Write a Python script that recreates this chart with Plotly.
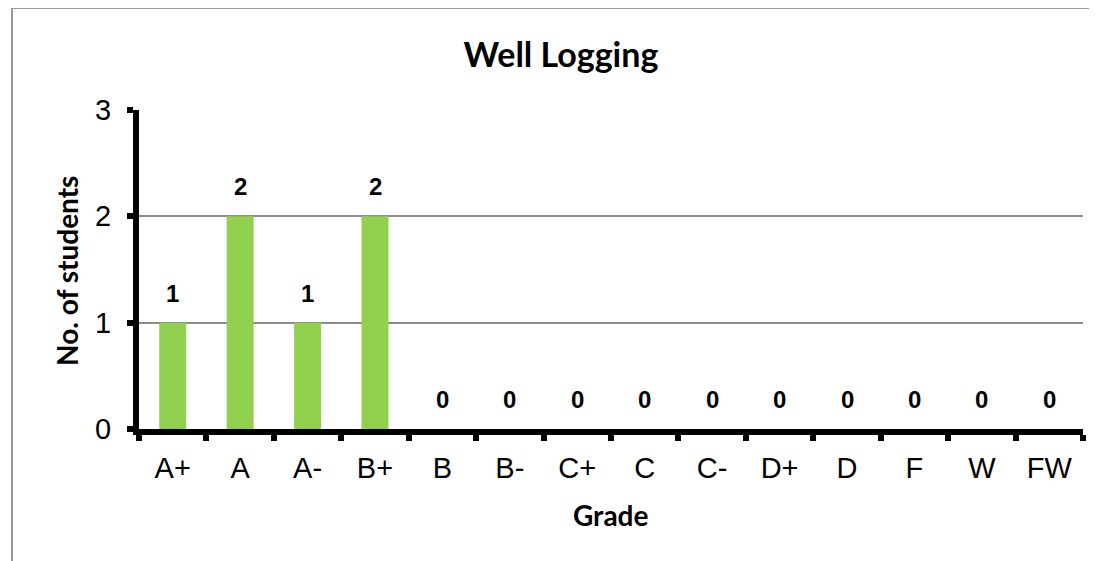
import plotly.graph_objects as go

grades = ["A+", "A", "A-", "B+", "B", "B-", "C+", "C", "C-", "D+", "D", "F", "W", "FW"]
students = [1, 2, 1, 2, 0, 0, 0, 0, 0, 0, 0, 0, 0, 0]
y_ticks = [0, 1, 2, 3]

SW, SH = 1097, 561     # screen size
OFF = 8                # page body margin offset
W, H = SW - OFF, SH - OFF
# plot area in screen coordinates
L, R, T, B = 139, 1083, 110, 429
pw, ph = R - L, B - T

def px(x):
    return (x - L) / pw

def py(y):
    return (B - y) / ph

fig = go.Figure()
fig.add_trace(go.Bar(
    x=grades, y=students,
    marker=dict(color="#92D050", line=dict(width=0)),
    width=0.4,
    hoverinfo="x+y",
))
for g, v in zip(grades, students):
    fig.add_annotation(x=g, y=v, xref="x", yref="y", text=f"<b>{v}</b>",
                       showarrow=False, yanchor="bottom", yshift=14,
                       font=dict(family="Liberation Sans", size=24, color="black"))

fig.update_layout(
    width=W, height=H,
    margin=dict(l=L - OFF, r=SW - R, t=T - OFF, b=SH - B, pad=0),
    paper_bgcolor="white", plot_bgcolor="white",
    showlegend=False,
    title=dict(text="<b>Well Logging</b>", x=(561 - OFF) / W, xanchor="center",
               y=1 - (55 - OFF) / H, yanchor="middle",
               font=dict(family="Lato", size=34, color="black")),
    bargap=0.6,
)
fig.update_xaxes(
    showline=True, linecolor="black", linewidth=6,
    ticks="outside", ticklen=6, tickwidth=6, tickcolor="black",
    tickson="boundaries", ticklabelstandoff=8,
    tickfont=dict(family="Liberation Sans", size=29, color="black"),
    showgrid=False, zeroline=False,
)
fig.update_yaxes(
    range=[0, 3], tickvals=y_ticks,
    showline=True, linecolor="black", linewidth=6,
    ticks="outside", ticklen=6, tickwidth=6, tickcolor="black",
    ticklabelstandoff=10,
    tickfont=dict(family="Liberation Sans", size=29, color="black"),
    showgrid=True, gridcolor="#8c8c8c", gridwidth=1.5,
    zeroline=False,
)
# axis titles
fig.add_annotation(x=px(610), y=py(515), xref="paper", yref="paper", text="<b>Grade</b>",
                   showarrow=False, xanchor="center", yanchor="middle",
                   font=dict(family="Lato", size=28, color="black"))
fig.add_annotation(x=px(67), y=py(271), xref="paper", yref="paper", text="<b>No. of students</b>",
                   showarrow=False, xanchor="center", yanchor="middle", textangle=-90,
                   font=dict(family="Lato", size=28, color="black"))
fig.add_shape(type="rect", xref="paper", yref="paper",
              x0=px(12), x1=px(1130), y0=py(620), y1=py(8),
              line=dict(color="#999999", width=2), fillcolor="rgba(0,0,0,0)", layer="below")

fig.write_html("out.html")
